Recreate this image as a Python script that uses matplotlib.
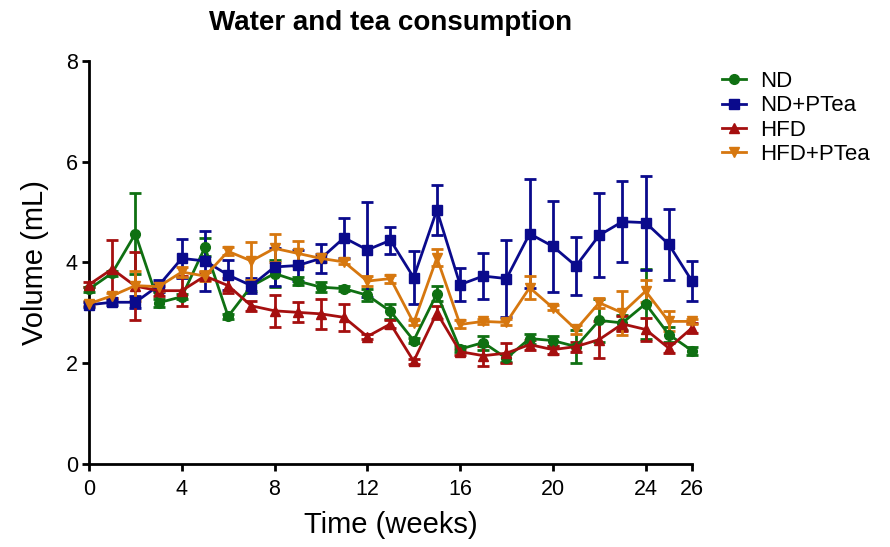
import matplotlib
matplotlib.use("Agg")
import matplotlib.pyplot as plt
from matplotlib.lines import Line2D

plt.rcParams['font.family'] = ['Liberation Sans', 'DejaVu Sans']

weeks = list(range(0, 27))

nd = [3.47, 3.79, 4.57, 3.20, 3.32, 4.30, 2.93, 3.53, 3.78, 3.63, 3.51, 3.48, 3.35, 3.03, 2.45,
      3.38, 2.28, 2.41, 2.10, 2.49, 2.45, 2.33, 2.85, 2.80, 3.18, 2.57, 2.25]
nd_err = [0.05, 0.05, 0.80, 0.08, 0.05, 0.18, 0.05, 0.10, 0.26, 0.08, 0.10, 0.05, 0.12, 0.15, 0.05,
          0.15, 0.06, 0.14, 0.08, 0.10, 0.10, 0.33, 0.43, 0.15, 0.69, 0.15, 0.08]

ndp = [3.16, 3.21, 3.21, 3.54, 4.08, 4.03, 3.75, 3.54, 3.91, 3.94, 4.08, 4.49, 4.25, 4.44, 3.70,
       5.04, 3.56, 3.73, 3.68, 4.57, 4.32, 3.93, 4.54, 4.81, 4.79, 4.36, 3.63]
ndp_err = [0.05, 0.05, 0.12, 0.12, 0.38, 0.60, 0.30, 0.15, 0.38, 0.30, 0.28, 0.40, 0.94, 0.27, 0.52,
           0.50, 0.33, 0.45, 0.76, 1.08, 0.90, 0.58, 0.83, 0.80, 0.93, 0.71, 0.40]

hfd = [3.56, 3.87, 3.53, 3.44, 3.44, 3.73, 3.54, 3.14, 3.04, 3.01, 2.98, 2.91, 2.53, 2.78, 2.04,
       3.00, 2.23, 2.15, 2.20, 2.37, 2.27, 2.33, 2.47, 2.78, 2.67, 2.30, 2.70]
hfd_err = [0.05, 0.58, 0.68, 0.10, 0.30, 0.08, 0.15, 0.10, 0.32, 0.20, 0.30, 0.27, 0.05, 0.08, 0.05,
           0.13, 0.06, 0.20, 0.20, 0.10, 0.08, 0.10, 0.36, 0.15, 0.22, 0.10, 0.10]

hfdp = [3.18, 3.34, 3.54, 3.52, 3.81, 3.73, 4.22, 4.03, 4.28, 4.18, 4.08, 4.01, 3.63, 3.68, 2.80,
        4.09, 2.77, 2.83, 2.81, 3.50, 3.10, 2.67, 3.20, 3.00, 3.43, 2.83, 2.83]
hfdp_err = [0.05, 0.05, 0.30, 0.08, 0.10, 0.10, 0.08, 0.38, 0.28, 0.25, 0.08, 0.05, 0.10, 0.08, 0.05,
            0.17, 0.08, 0.05, 0.06, 0.23, 0.05, 0.08, 0.10, 0.43, 0.22, 0.20, 0.05]

labels = ['ND', 'ND+PTea', 'HFD', 'HFD+PTea']
colors = ['#0f7012', '#0a0a8c', '#a50f0f', '#d6770f']
markers = ['o', 's', '^', 'v']
series = [(nd, nd_err), (ndp, ndp_err), (hfd, hfd_err), (hfdp, hfdp_err)]

fig = plt.figure(figsize=(8.9, 5.47), dpi=100)
ax = fig.add_axes([0.1, 0.1517, 0.6775, 0.737])

handles = []
for (vals, errs), lab, col, mk in zip(series, labels, colors, markers):
    ax.errorbar(weeks, vals, yerr=errs, color=col, marker=mk, markersize=7,
                linewidth=2, elinewidth=2, capsize=4.5, capthick=2,
                clip_on=False, zorder=3)
    handles.append(Line2D([], [], color=col, marker=mk, markersize=7, linewidth=2))

ax.set_xlim(0, 26)
ax.set_ylim(0, 8)
ax.set_xticks([0, 4, 8, 12, 16, 20, 24, 26])
ax.set_yticks([0, 2, 4, 6, 8])
for s in ['top', 'right']:
    ax.spines[s].set_visible(False)
for s in ['left', 'bottom']:
    ax.spines[s].set_linewidth(2)
ax.tick_params(axis='both', width=2, length=5, labelsize=15.5, direction='out', pad=3)
ax.tick_params(axis='x', pad=6)
ax.set_xlabel('Time (weeks)', fontsize=21, labelpad=8)
ax.set_ylabel('Volume (mL)', fontsize=21, labelpad=12)
ax.set_title('Water and tea consumption', fontsize=20, fontweight='bold', pad=22)

ax.legend(handles, labels, loc='upper left', bbox_to_anchor=(1.035, 0.997), frameon=False,
          fontsize=16, handlelength=1.1, handletextpad=0.6, labelspacing=0.15,
          borderaxespad=0)

fig.savefig('out.png', dpi=100)
